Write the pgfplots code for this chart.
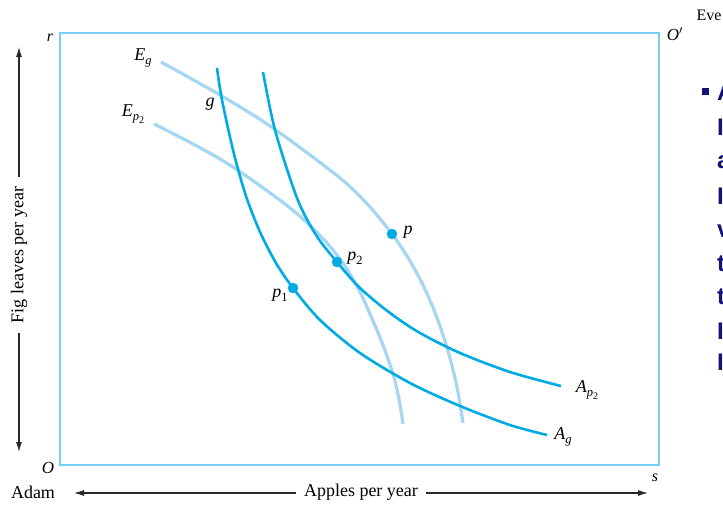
\documentclass[border=0pt]{standalone}
\usepackage{pgfplots}
\pgfplotsset{compat=1.18}
\usepackage{fontspec}
\setmainfont{Liberation Serif}
\newfontfamily\slidefont{Liberation Sans}
\usetikzlibrary{arrows.meta}

\definecolor{boxblue}{RGB}{120,208,240}
\definecolor{curveblue}{RGB}{0,170,228}
\definecolor{paleblue}{RGB}{165,214,242}
\definecolor{slidenavy}{RGB}{20,20,120}
\definecolor{arrowgray}{RGB}{40,40,40}

% lowered subscripts set in the text font
\newcommand{\lab}{\fontsize{18}{20}\selectfont}
\newcommand{\lo}[1]{\raisebox{-0.45ex}{\fontsize{12.5}{13}\selectfont #1}}
\newcommand{\llo}[1]{\raisebox{-0.45ex}{\fontsize{10}{11}\selectfont #1}}

\begin{document}
\begin{tikzpicture}[x=1pt,y=1pt]
\path[use as bounding box] (0,0) rectangle (723,504);
\clip (0,0) rectangle (723,504);
\begin{axis}[
  at={(60pt,39pt)}, anchor=south west,
  scale only axis, width=599pt, height=432pt,
  xmin=60, xmax=659, ymin=33, ymax=465, y dir=reverse,
  ticks=none, clip=false,
  axis line style={draw=boxblue, line width=1.8pt},
]
% Eve's indifference curves
\addplot[paleblue, line width=3.2pt, smooth] coordinates {
  (161,62) (220,95) (273,128) (340,178) (370,207) (392,234)
  (407,256) (422,283) (436,315) (448,351) (457,387) (463,423)};
\addplot[paleblue, line width=3.2pt, smooth] coordinates {
  (154,124) (195,145) (233,167) (277,198) (302,218) (327,243)
  (345,266) (360,292) (373,321) (383,345) (393,374) (399,399) (403,424)};
% Adam's indifference curves
\addplot[curveblue, line width=2.6pt, smooth] coordinates {
  (217,68) (222,100) (234,154) (246,196) (260,232) (276,263) (293,288)
  (320,320) (360,353) (410,383) (460,406) (510,425) (547,435)};
\addplot[curveblue, line width=2.6pt, smooth] coordinates {
  (263,72) (275,130) (297,198) (316,235) (337,262) (360,288) (390,313)
  (420,333) (460,353) (510,372) (561,386)};
% allocations
\addplot[only marks, mark=*, mark size=5pt, curveblue,
  mark options={draw=curveblue, fill=curveblue}] coordinates {
  (392,234) (337,262) (293,288)};

% curve and point labels
\node at (axis cs:143,58) {\lab\textit{E}\lo{\textit{g}}};
\node at (axis cs:133,114) {\lab\textit{E}\lo{\textit{p}\llo{2}}};
\node at (axis cs:210,104) {\lab\textit{g}};
\node at (axis cs:408,232) {\lab\textit{p}};
\node at (axis cs:355,258) {\lab\textit{p}\lo{2}};
\node at (axis cs:280,295) {\lab\textit{p}\lo{1}};
\node at (axis cs:587,390) {\lab\textit{A}\lo{\textit{p}\llo{2}}};
\node at (axis cs:563,437) {\lab\textit{A}\lo{\textit{g}}};

% corners
\node at (axis cs:50,38) {\fontsize{16}{18}\selectfont\textit{r}};
\node at (axis cs:48,468) {\fontsize{17}{18}\selectfont\textit{O}};
\node at (axis cs:655,478) {\fontsize{16}{18}\selectfont\textit{s}};
\node at (axis cs:675,34) {\fontsize{17}{18}\selectfont\textit{O}$'$};
\node at (axis cs:709,15) {\fontsize{16}{18}\selectfont Eve};

% axis captions with arrows
\node at (axis cs:33,492) {\lab Adam};
\node at (axis cs:361,492) {\lab Apples per year};
\draw[arrowgray, line width=1.1pt, -{Latex[length=10pt,width=6pt]}]
  (axis cs:296,493) -- (axis cs:74,493);
\draw[arrowgray, line width=1.1pt, -{Latex[length=10pt,width=6pt]}]
  (axis cs:426,493) -- (axis cs:648,493);
\node[rotate=90] at (axis cs:19,255) {\lab Fig leaves per year};
\draw[arrowgray, line width=1.1pt, -{Latex[length=10pt,width=6pt]}]
  (axis cs:19,177) -- (axis cs:19,47);
\draw[arrowgray, line width=1.1pt, -{Latex[length=10pt,width=6pt]}]
  (axis cs:19,333) -- (axis cs:19,452);

% slide text at the right edge
\fill[slidenavy] (axis cs:701.5,87.5) rectangle (axis cs:708.5,94.5);
\begin{scope}[every node/.style={anchor=base west, inner sep=0pt,
    text=slidenavy, font=\slidefont\bfseries\fontsize{24}{26}\selectfont}]
\node at (axis cs:717,100) {A};
\node at (axis cs:717,135) {I};
\node at (axis cs:717,168) {a};
\node at (axis cs:717,204) {I};
\node at (axis cs:717,237) {v};
\node at (axis cs:717,271) {t};
\node at (axis cs:717,304) {t};
\node at (axis cs:717,339) {I};
\node at (axis cs:717,370) {I};
\end{scope}
\end{axis}
\end{tikzpicture}
\end{document}
